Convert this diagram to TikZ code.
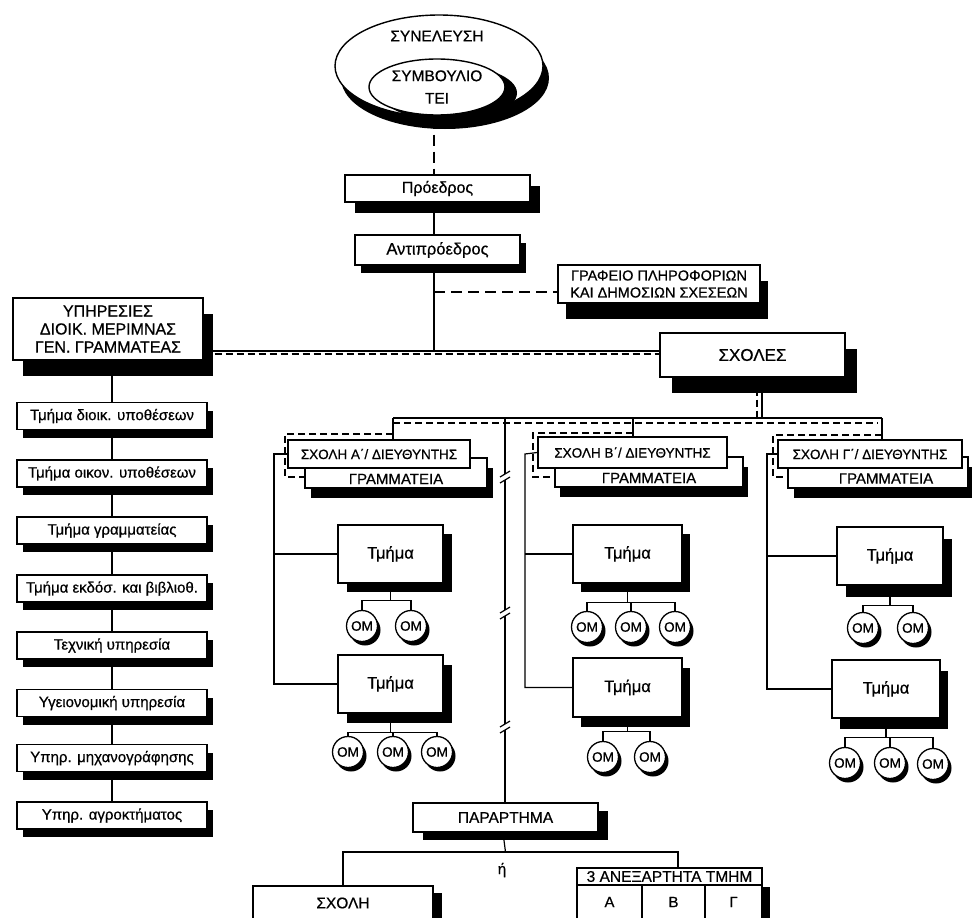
\documentclass[tikz,border=0pt]{standalone}
\usepackage{fontspec}
\setmainfont{Liberation Sans}[FakeBold=0.6]
\usetikzlibrary{shapes.geometric,shadows,calc}
\pgfdeclarelayer{bg}
\pgfsetlayers{bg,main}
\newcommand{\chartfont}[2]{\fontsize{#1pt}{#2pt}\selectfont}

\begin{document}
\begin{tikzpicture}[x=1pt,y=-1pt,
  shd/.style 2 args={drop shadow={shadow xshift=#1pt,shadow yshift=-#2pt,fill=black,opacity=1}},
  sz/.style 2 args={minimum width=#1pt,minimum height=#2pt},
  box/.style={draw,fill=white,line width=1.4pt,inner sep=0pt,align=center},
  sbox/.style={box,sz={190}{27},shd={6}{8},font=\chartfont{15}{15}},
  tbox/.style={box,font=\chartfont{16.5}{16.5}},
  schbox/.style={box,font=\chartfont{13.5}{13.5}},
  om/.style={circle,draw,fill=white,line width=1.3pt,minimum size=31pt,inner sep=0pt,font=\chartfont{13.5}{13.5},shd={3}{4}},
  conn/.style={line width=1.2pt},
  dline/.style={line width=1.5pt,dash pattern=on 11pt off 6pt},
  dframe/.style={line width=1.1pt,dash pattern=on 7pt off 4pt},
  glabel/.style={font=\chartfont{15}{15},yshift=-6pt},
  brk/.pic={
    \fill[white] (-5,-3) rectangle (5,3);
    \draw[line width=1.2pt] (-5,0) -- (5,-6) (-5,6) -- (5,0);
  }
]
\useasboundingbox (0,0) rectangle (972,918);
\clip (0,0) rectangle (972,918);
\begin{pgfonlayer}{bg}
  \fill[white] (0,0) rectangle (972,918);
\end{pgfonlayer}

% ---------- governing bodies ----------
\node[ellipse,draw,fill=white,line width=1.4pt,sz={208}{102},shd={6}{12}] (syn) at (439,66) {};
\node[font=\chartfont{15.5}{15.5}] (synt) at (437,36) {ΣΥΝΕΛΕΥΣΗ};
\node[ellipse,draw,fill=white,line width=1.4pt,sz={136}{56},shd={12}{6},
      align=center,inner sep=0pt,font=\chartfont{15.5}{15.5}] (sym) at (437,87) {ΣΥΜΒΟΥΛΙΟ\\[7pt]ΤΕΙ};

\node[box,sz={185}{27},shd={10}{11},font=\chartfont{16}{16}] (pro) at (437.5,188.5) {Πρόεδρος};
\node[box,sz={165}{30},shd={6}{8},font=\chartfont{16.5}{16.5}] (ant) at (437.5,250) {Αντιπρόεδρος};
\node[box,sz={202}{38},shd={8}{16},font=\chartfont{14.5}{17}] (gra) at (659,284) {ΓΡΑΦΕΙΟ ΠΛΗΡΟΦΟΡΙΩΝ\\ΚΑΙ ΔΗΜΟΣΙΩΝ ΣΧΕΣΕΩΝ};
\node[box,sz={190}{62},shd={10}{16},font=\chartfont{16}{18}] (yp) at (108,329) {ΥΠΗΡΕΣΙΕΣ\\ΔΙΟΙΚ. ΜΕΡΙΜΝΑΣ\\ΓΕΝ. ΓΡΑΜΜΑΤΕΑΣ};
\node[box,sz={185}{44},shd={12}{16},font=\chartfont{17}{17}] (sxo) at (752.5,355) {ΣΧΟΛΕΣ};

% ---------- administrative services ----------
\node[sbox] (s1) at (112,416) {Τμήμα διοικ. υποθέσεων};
\node[sbox] (s2) at (112,473.5) {Τμήμα οικον. υποθέσεων};
\node[sbox] (s3) at (112,530.5) {Τμήμα γραμματείας};
\node[sbox] (s4) at (112,588.5) {Τμήμα εκδόσ. και βιβλιοθ.};
\node[sbox] (s5) at (112,645.5) {Τεχνική υπηρεσία};
\node[sbox] (s6) at (112,703) {Υγειονομική υπηρεσία};
\node[sbox] (s7) at (112,758) {Υπηρ. μηχανογράφησης};
\node[sbox] (s8) at (112,815.5) {Υπηρ. αγροκτήματος};

% ---------- schools ----------
\node[box,sz={182}{30},shd={6}{10},label={[name=gAt,glabel]center:ΓΡΑΜΜΑΤΕΙΑ}] (gA) at (396,473) {};
\node[schbox,sz={182}{28}] (sA) at (379,454) {ΣΧΟΛΗ Α΄/ ΔΙΕΥΘΥΝΤΗΣ};
\node[box,sz={188}{30},shd={5}{10},label={[name=gBt,glabel]center:ΓΡΑΜΜΑΤΕΙΑ}] (gB) at (649,472) {};
\node[schbox,sz={189}{31}] (sB) at (632.5,452.5) {ΣΧΟΛΗ Β΄/ ΔΙΕΥΘΥΝΤΗΣ};
\node[box,sz={180}{31},shd={6}{10},label={[name=gCt,glabel,xshift=8pt]center:ΓΡΑΜΜΑΤΕΙΑ}] (gC) at (878,472.5) {};
\node[schbox,sz={184}{28}] (sC) at (870,454) {ΣΧΟΛΗ Γ΄/ ΔΙΕΥΘΥΝΤΗΣ};

% departments
\node[tbox,sz={105}{58},shd={9}{9}]  (tA1) at (390.5,554) {Τμήμα};
\node[tbox,sz={105}{58},shd={9}{10}] (tA2) at (390.5,684) {Τμήμα};
\node[tbox,sz={109}{58},shd={8}{9}]  (tB1) at (627.5,554) {Τμήμα};
\node[tbox,sz={109}{59},shd={8}{10}] (tB2) at (627.5,687.5) {Τμήμα};
\node[tbox,sz={106}{58},shd={9}{12}] (tC1) at (890,556) {Τμήμα};
\node[tbox,sz={108}{58},shd={8}{11}] (tC2) at (886,689) {Τμήμα};

% sections (OM)
\node[om] (oA11) at (362,626) {OM};
\node[om] (oA12) at (411,626) {OM};
\node[om] (oA21) at (348,752) {OM};
\node[om] (oA22) at (393,752) {OM};
\node[om] (oA23) at (437,752) {OM};
\node[om] (oB11) at (587,627) {OM};
\node[om] (oB12) at (631,627) {OM};
\node[om] (oB13) at (675,627) {OM};
\node[om] (oB21) at (603,757) {OM};
\node[om] (oB22) at (650,757) {OM};
\node[om] (oC11) at (863,628) {OM};
\node[om] (oC12) at (913,628) {OM};
\node[om] (oC21) at (845,763) {OM};
\node[om] (oC22) at (890,763) {OM};
\node[om] (oC23) at (933,764) {OM};

% ---------- annex ----------
\node[box,sz={185}{29},shd={10}{8},font=\chartfont{15.5}{15.5}] (par) at (505.5,817.5) {ΠΑΡΑΡΤΗΜΑ};
\node[box,sz={180}{34},shd={9}{7},font=\chartfont{15.5}{15.5}] (sxB) at (343,903) {ΣΧΟΛΗ};
\node[font=\chartfont{15}{15}] (or) at (502,870) {ή};
\node[box,sz={65}{34},font=\chartfont{15}{15}] (cA) at (609.5,902) {Α};
\node[box,sz={63}{34},font=\chartfont{15}{15}] (cB) at (673.5,902) {Β};
\node[box,sz={57}{34},shd={8}{2},font=\chartfont{15}{15}] (cG) at (733.5,902) {Γ};
\node[box,sz={185}{17},font=\chartfont{15.5}{15.5}] (anx) at (669.5,876.5) {3 ΑΝΕΞΑΡΤΗΤΑ ΤΜΗΜ};

% break marks on the annex line
\pic at (505,477) {brk};
\pic at (505,613) {brk};
\pic at (505,727) {brk};

% ---------- connectors ----------
\coordinate (j1) at (434,351);
\coordinate (g1) at (434,292);
\coordinate (bA) at (393,418);
\coordinate (bM) at (505,418);
\coordinate (bB) at (633,418);
\coordinate (bS) at (762,418);
\coordinate (bC) at (882,418);
\coordinate (dA1) at (285,434);
\coordinate (dA2) at (285,477);
\coordinate (dB1) at (533,433);
\coordinate (dB2) at (533,477);
\coordinate (dC1) at (773,435);
\coordinate (dC2) at (773,477);
\coordinate (lA) at (274,454);
\coordinate (lB) at (525,454);
\coordinate (lC) at (767,454);
\coordinate (hA1) at ($(tA1.south)+(0,17)$);
\coordinate (hA2) at ($(tA2.south)+(0,19)$);
\coordinate (hB1) at ($(tB1.south)+(0,19)$);
\coordinate (hB2) at ($(tB2.south)+(0,14)$);
\coordinate (hC1) at ($(tC1.south)+(0,20)$);
\coordinate (hC2) at ($(tC2.south)+(0,19)$);
\coordinate (hP) at (503,852);
\coordinate (hR) at (678,852);

\begin{pgfonlayer}{bg}
  % chain of command
  \draw[dline] (j1 |- syn.south) -- (j1 |- pro.north);
  \draw[conn] (j1 |- pro.south) -- (j1 |- ant.north);
  \draw[conn] (j1 |- ant.south) -- (j1);
  \draw[dline] (g1) -- (g1 -| gra.west);
  \draw[conn] (yp.east |- j1) -- (sxo.west |- j1);
  \draw[dframe,line width=1.4pt] ($(yp.east |- j1)+(0,3)$) -- ($(sxo.west |- j1)+(0,3)$);
  % services column
  \draw[conn] (yp.south -| s1.north) -- (s8.north);
  % schools bus
  \draw[conn] (sxo.south -| bS) -- (bS);
  \draw[dframe] ($(sxo.south -| bS)+(-5,0)$) -- ($(bS)+(-5,5)$);
  \draw[conn] (bA) -- (bC);
  \draw[dframe] ($(bA)+(0,5)$) -- ($(bC)+(-4,5)$);
  \draw[conn] (bA) -- (bA |- sA.north);
  \draw[conn] (bB) -- (bB |- sB.north);
  \draw[conn] (bC) -- (bC |- sC.north);
  \draw[dframe] (bA |- dA1) -- (dA1) -- (dA2) -- (dA2 -| gA.west);
  \draw[dframe] (bB |- dB1) -- (dB1) -- (dB2) -- (dB2 -| gB.west);
  \draw[dframe] (bC |- dC1) -- (dC1) -- (dC2) -- (dC2 -| gC.west);
  % schools to departments
  \draw[conn] (sA.west) -- (lA) |- (tA2.west);
  \draw[conn] (lA |- tA1.west) -- (tA1.west);
  \draw[conn] (sB.west) -- (lB) |- (tB2.west);
  \draw[conn] (lB |- tB1.west) -- (tB1.west);
  \draw[conn] (sC.west) -- (lC) |- (tC2.west);
  \draw[conn] (lC |- tC1.west) -- (tC1.west);
  % departments to sections
  \draw[conn] (tA1.south) -- (hA1);
  \draw[conn] (oA11.north) |- (hA1) -| (oA12.north);
  \draw[conn] (tA2.south) -- (hA2);
  \draw[conn] (oA21.north) |- (hA2) -| (oA23.north);
  \draw[conn] (oA22.north) -- (oA22.north |- hA2);
  \draw[conn] (tB1.south) -- (hB1);
  \draw[conn] (oB11.north) |- (hB1) -| (oB13.north);
  \draw[conn] (oB12.north) -- (oB12.north |- hB1);
  \draw[conn] (tB2.south) -- (hB2);
  \draw[conn] (oB21.north) |- (hB2) -| (oB22.north);
  \draw[conn] (tC1.south) -- (hC1);
  \draw[conn] (oC11.north) |- (hC1) -| (oC12.north);
  \draw[conn] (tC2.south) -- (hC2);
  \draw[conn] (oC21.north) |- (hC2) -| (oC23.north);
  \draw[conn] (oC22.north) -- (oC22.north |- hC2);
  % annex
  \draw[conn] (bM) -- (bM |- par.north);
  \draw[conn] (par.south |- hP) -- (hP |- par.south);
  \draw[conn] (sxB.north) |- (hR) -- (hR |- anx.north);
\end{pgfonlayer}
\end{tikzpicture}
\end{document}
